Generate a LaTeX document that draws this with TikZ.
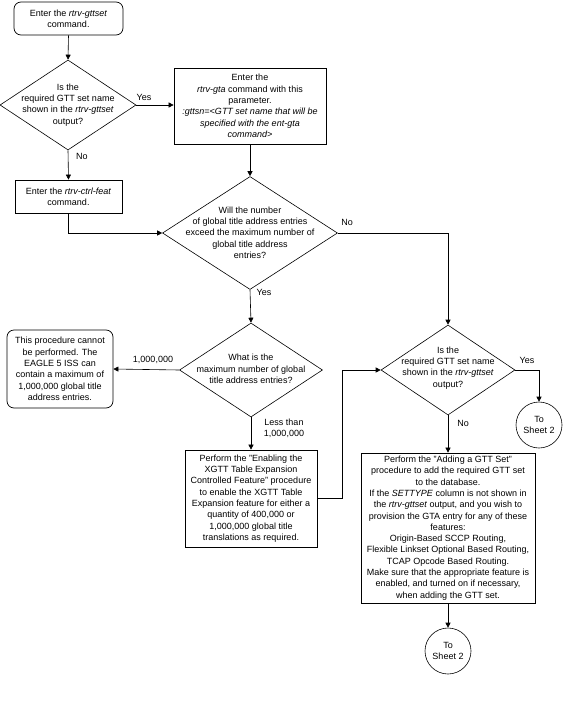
\documentclass[tikz,border=0pt]{standalone}
\usepackage{fontspec}
\setmainfont{Liberation Sans}
\usetikzlibrary{shapes.geometric,arrows.meta}
\begin{document}
\begin{tikzpicture}[x=1pt,y=-1pt,
  font=\fontsize{9}{11.3}\selectfont,
  every node/.style={inner sep=0pt},
  proc/.style={draw, rectangle, line width=0.7pt, align=center},
  term/.style={draw, rectangle, rounded corners=7pt, line width=0.7pt, align=center},
  dec/.style={draw, diamond, line width=0.6pt},
  txt/.style={align=center},
  conn/.style={draw, circle, line width=0.6pt, minimum size=46pt, align=center},
  flow/.style={-{Triangle[length=5pt,width=5pt]}, line width=0.6pt},
  lbl/.style={align=center}]
\useasboundingbox (0,0) rectangle (565,701);

% nodes
\node[term, minimum width=109pt, minimum height=33pt] (s1) at (68.5,18.5) {Enter the \textit{rtrv-gttset}\\command.};
\node[dec, minimum width=136pt, minimum height=90pt] (d1) at (68,105) {};
\node[txt] (d1t) at (d1) {Is the\\required GTT set name\\shown in the \textit{rtrv-gttset}\\output?};
\node[proc, minimum width=152pt, minimum height=76pt] (b2) at (250,106) {Enter the\\\textit{rtrv-gta} command with this\\parameter.\\\textit{:gttsn=<GTT set name that will be}\\\textit{specified with the ent-gta}\\\textit{command>}};
\node[proc, minimum width=107pt, minimum height=33pt] (b3) at (68.5,196.5) {Enter the \textit{rtrv-ctrl-feat}\\command.};
\node[dec, minimum width=175pt, minimum height=113pt] (d2) at (250,233) {};
\node[txt] (d2t) at (250,232.5) {Will the number\\of global title address entries\\exceed the maximum number of\\global title address\\entries?};
\node[dec, minimum width=143pt, minimum height=94pt] (d3) at (251,370) {};
\node[txt] (d3t) at (251,369) {What is the\\maximum number of global\\title address entries?};
\node[term, minimum width=106pt, minimum height=78pt] (b4) at (60,369) {This procedure cannot\\be performed. The\\EAGLE 5 ISS can\\contain a maximum of\\1,000,000 global title\\address entries.};
\node[proc, minimum width=132pt, minimum height=97pt] (b5) at (251,498.5) {Perform the "Enabling the\\XGTT Table Expansion\\Controlled Feature" procedure\\to enable the XGTT Table\\Expansion feature for either a\\quantity of 400,000 or\\1,000,000 global title\\translations as required.};
\node[dec, minimum width=134pt, minimum height=90pt] (d4) at (448,370) {};
\node[txt] (d4t) at (448,368) {Is the\\required GTT set name\\shown in the \textit{rtrv-gttset}\\output?};
\node[conn] (c1) at (539,425) {To\\Sheet 2};
\node[proc, minimum width=174pt, minimum height=150pt] (b6) at (448,528) {Perform the "Adding a GTT Set"\\procedure to add the required GTT set\\to the database.\\If the \textit{SETTYPE} column is not shown in\\the \textit{rtrv-gttset} output, and you wish to\\provision the GTA entry for any of these\\features:\\Origin-Based SCCP Routing,\\Flexible Linkset Optional Based Routing,\\TCAP Opcode Based Routing.\\Make sure that the appropriate feature is\\enabled, and turned on if necessary,\\when adding the GTT set.};
\node[conn] (c2) at (448,651) {To\\Sheet 2};
\coordinate (k) at (342,0);

% connectors
\draw[flow] (s1.south) -- (d1.north);
\draw[flow] (d1.east) -- (d1.east -| b2.west);
\draw[flow] (d1.south) -- (b3.north);
\draw[flow] (b3.south) |- (d2.west);
\draw[flow] (b2.south) -- (d2.north);
\draw[flow] (d2.south) -- (d3.north);
\draw[flow] (d2.east) -| (d4.north);
\draw[flow] (d3.west) -- (b4.east);
\draw[flow] (d3.south) -- (b5.north);
\draw[flow] (b5.east) -- (b5.east -| k) |- (d4.west);
\draw[flow] (d4.east) -| (c1.north);
\draw[flow] (d4.south) -- (b6.north);
\draw[flow] (b6.south) -- (c2.north);

% labels
\node[lbl] (l1) at (144,97) {Yes};
\node[lbl, anchor=west] (l2) at (76,156) {No};
\node[lbl] (l3) at (347,222) {No};
\node[lbl] (l4) at (264,292) {Yes};
\node[lbl] (l5) at (153,360) {1,000,000};
\node[lbl] (l6) at (284,428) {Less than\\1,000,000};
\node[lbl] (l7) at (527,360) {Yes};
\node[lbl] (l8) at (463,423) {No};
\end{tikzpicture}
\end{document}
